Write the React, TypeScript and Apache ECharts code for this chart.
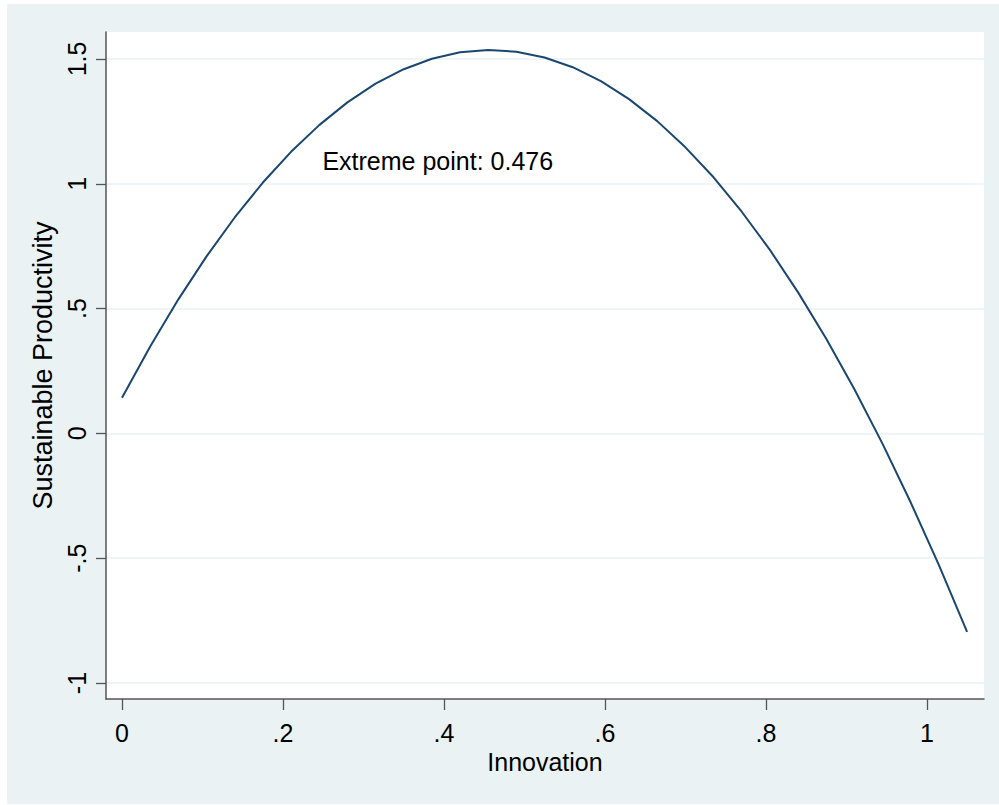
import React, { useEffect, useRef } from "react";
import * as echarts from "echarts";

// Values
const innovation = [
  0, 0.035, 0.07, 0.105, 0.14, 0.175, 0.21, 0.245, 0.28, 0.315, 0.35, 0.385,
  0.42, 0.455, 0.49, 0.525, 0.56, 0.595, 0.63, 0.665, 0.7, 0.735, 0.77, 0.805,
  0.84, 0.875, 0.91, 0.945, 0.98, 1.015, 1.05,
];
const productivity = [
  0.143, 0.348, 0.537, 0.709, 0.865, 1.005, 1.128, 1.235, 1.326, 1.401, 1.459,
  1.501, 1.527, 1.536, 1.529, 1.506, 1.467, 1.411, 1.339, 1.251, 1.146, 1.026,
  0.888, 0.735, 0.565, 0.379, 0.177, -0.042, -0.277, -0.528, -0.795,
];
const xTicks = [0, 0.2, 0.4, 0.6, 0.8, 1];
const xTickLabels = ["0", ".2", ".4", ".6", ".8", "1"];
const yTicks = [-1, -0.5, 0, 0.5, 1, 1.5];
const yTickLabels = ["-1", "-.5", "0", ".5", "1", "1.5"];
const xTitle = "Innovation";
const yTitle = "Sustainable Productivity";
const annotation = "Extreme point: 0.476";
const annotationAt = [0.249, 1.09];

const FONT = "'Liberation Sans', Arial, Helvetica, sans-serif";
const BG = "#eaf2f3";
const AXIS = "#555555";
const LINE = "#1a476f";

function labelFor(ticks: number[], labels: string[], v: number) {
  let best = 0;
  for (let i = 1; i < ticks.length; i++) {
    if (Math.abs(ticks[i] - v) < Math.abs(ticks[best] - v)) best = i;
  }
  return labels[best];
}

export default function App() {
  const ref = useRef<HTMLDivElement>(null);
  useEffect(() => {
    if (!ref.current) return;
    const chart = echarts.init(ref.current, undefined, { renderer: "svg" });
    const data = innovation.map((x, i) => [x, productivity[i]]);
    chart.setOption({
      animation: false,
      backgroundColor: "#ffffff",
      grid: {
        left: 106,
        top: 32,
        right: 15,
        bottom: 106,
        show: true,
        backgroundColor: "#ffffff",
        borderWidth: 0,
      },
      xAxis: {
        type: "value",
        min: -0.0199,
        max: 1.071,
        name: xTitle,
        nameLocation: "middle",
        nameGap: 46,
        nameTextStyle: { fontFamily: FONT, fontSize: 25, color: "#000" },
        axisLine: { show: true, onZero: false, lineStyle: { color: AXIS, width: 1.5 } },
        axisTick: {
          show: true,
          customValues: xTicks,
          length: 11,
          lineStyle: { color: AXIS, width: 1.3 },
        },
        axisLabel: {
          customValues: xTicks,
          formatter: (v: number) => labelFor(xTicks, xTickLabels, v),
          fontFamily: FONT,
          fontSize: 25,
          color: "#000",
          margin: 21,
        },
        splitLine: { show: false },
      },
      yAxis: {
        type: "value",
        min: -1.064,
        max: 1.608,
        name: yTitle,
        nameLocation: "middle",
        nameGap: 41,
        nameRotate: 90,
        nameTextStyle: { fontFamily: FONT, fontSize: 27, color: "#000" },
        axisLine: { show: true, onZero: false, lineStyle: { color: AXIS, width: 1.5 } },
        axisTick: {
          show: true,
          customValues: yTicks,
          length: 10,
          lineStyle: { color: AXIS, width: 1.3 },
        },
        axisLabel: {
          customValues: yTicks,
          rotate: 90,
          formatter: (v: number) => labelFor(yTicks, yTickLabels, v),
          fontFamily: FONT,
          fontSize: 25,
          color: "#000",
          margin: 17,
        },
        splitLine: { show: true, lineStyle: { color: BG, width: 1.5 } },
      },
      series: [
        {
          type: "line",
          data,
          showSymbol: false,
          smooth: false,
          lineStyle: { color: LINE, width: 2 },
          z: 3,
        },
      ],
    });
    const p = chart.convertToPixel({ gridIndex: 0 }, annotationAt) as number[];
    chart.setOption({
      graphic: [
        {
          type: "rect",
          silent: true,
          z: -10,
          shape: { x: 7, y: 4, width: 992, height: 800 },
          style: { fill: BG },
        },
        {
          type: "text",
          silent: true,
          z: 10,
          x: p[0],
          y: p[1],
          style: {
            text: annotation,
            fontFamily: FONT,
            fontSize: 25,
            fill: "#000",
            align: "left",
            verticalAlign: "middle",
          },
        },
      ],
    });
    return () => chart.dispose();
  }, []);
  return (
    <div
      ref={ref}
      style={{ position: "fixed", left: 0, top: 0, width: 999, height: 805 }}
    />
  );
}
